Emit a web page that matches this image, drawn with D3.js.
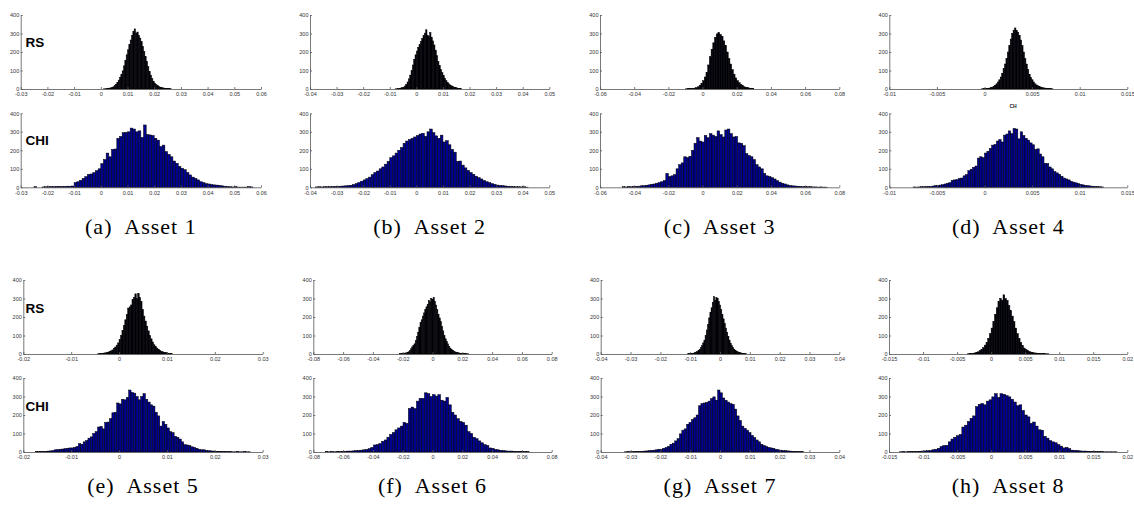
<!DOCTYPE html>
<html>
<head>
<meta charset="utf-8">
<script src="https://cdn.jsdelivr.net/npm/d3@7"></script>
<style>
  body { margin: 0; background: #fff; }
  svg { display: block; }
  .tick text { font-family: "Liberation Sans", Arial, sans-serif; font-size: 5.5px; fill: #333; }
  .domain, .tick line { stroke: #555; stroke-width: 0.8; }
</style>
</head>
<body>
<div id="chart"></div>
<script>
// ---- data ----
const captions = ["(a)  Asset 1", "(b)  Asset 2", "(c)  Asset 3", "(d)  Asset 4",
                  "(e)  Asset 5", "(f)  Asset 6", "(g)  Asset 7", "(h)  Asset 8"];

const xDomains = [[-0.03, 0.06], [-0.04, 0.05], [-0.06, 0.08], [-0.01, 0.015],
                  [-0.02, 0.03], [-0.08, 0.08], [-0.04, 0.04], [-0.015, 0.02]];

const xTicks = [
  [-0.03, -0.02, -0.01, 0, 0.01, 0.02, 0.03, 0.04, 0.05, 0.06],
  [-0.04, -0.03, -0.02, -0.01, 0, 0.01, 0.02, 0.03, 0.04, 0.05],
  [-0.06, -0.04, -0.02, 0, 0.02, 0.04, 0.06, 0.08],
  [-0.01, -0.005, 0, 0.005, 0.01, 0.015],
  [-0.02, -0.01, 0, 0.01, 0.02, 0.03],
  [-0.08, -0.06, -0.04, -0.02, 0, 0.02, 0.04, 0.06, 0.08],
  [-0.04, -0.03, -0.02, -0.01, 0, 0.01, 0.02, 0.03, 0.04],
  [-0.015, -0.01, -0.005, 0, 0.005, 0.01, 0.015, 0.02]
];
const yTicks = [0, 100, 200, 300, 400];

// RS histograms: first bin edge, bin width, counts
const rsBinStart = [0.001, -0.008, -0.010, -0.0003, -0.0045, -0.022, -0.011, -0.0035];
const rsBinWidth = [0.0005, 0.0005, 0.001, 0.00015, 0.0003, 0.0008, 0.0004, 0.00025];
const rsCounts = [
  [1,1,2,3,5,6,8,12,18,26,35,48,62,78,98,125,155,185,212,240,265,290,312,325,302,308,290,275,256,230,203,175,150,122,95,75,56,42,32,24,18,13,10,8,6,5,4,3,2,2,1],
  [1,1,2,3,5,7,10,16,25,38,55,75,100,130,160,185,205,225,240,258,272,288,302,320,290,285,305,280,260,238,210,180,150,128,105,88,72,58,45,35,28,22,17,13,10,8,6,4,3,2],
  [1,2,2,3,4,5,8,12,20,30,45,65,90,130,175,215,250,280,298,305,295,285,260,235,200,165,135,105,80,60,45,34,25,18,12,9,7,5,4,2],
  [1,2,3,3,4,5,7,10,15,20,28,38,50,65,85,110,135,165,200,235,270,300,318,330,315,305,290,265,235,200,165,135,105,80,62,50,38,28,22,17,13,10,8,6,5,4,3,2,2,1],
  [1,2,3,4,5,6,8,10,13,17,22,30,38,48,60,78,100,128,155,185,215,248,255,265,295,305,325,300,328,305,285,240,205,178,150,125,100,82,65,50,40,32,25,20,15,12,9,8,6,4,3,2],
  [2,3,3,4,5,6,8,12,18,28,38,45,55,72,95,118,145,170,185,205,222,240,255,268,290,282,300,295,305,285,265,240,215,195,175,150,125,100,82,68,55,42,32,25,20,16,12,10,8,6,5,4,3,3,2,2,1,1],
  [1,2,2,3,4,5,7,10,13,18,25,35,45,60,75,100,130,160,195,225,250,280,310,290,305,300,285,265,240,215,190,165,140,115,95,75,58,45,35,26,20,15,12,9,7,5,4,3,2,1],
  [1,2,3,4,6,8,12,18,25,35,48,62,85,110,140,175,215,250,285,300,290,320,300,290,262,235,205,175,140,110,85,62,45,32,25,18,14,10,8,6,5,4,3,3,2,2,1,1]
];

// CHI histograms
const chiBinStart = [-0.025, -0.038, -0.047, -0.0075, -0.0175, -0.072, -0.032, -0.0135];
const chiBinWidth = [0.001, 0.001, 0.0015, 0.00025, 0.0005, 0.0018, 0.0008, 0.0004];
const chiCounts = [
  [4,0,0,2,3,3,4,4,5,5,5,5,6,6,7,25,30,38,48,58,70,72,80,90,100,128,150,185,165,205,207,265,275,295,297,300,320,315,300,305,270,337,285,283,280,265,255,220,228,193,178,165,142,130,113,103,95,80,67,55,48,40,30,25,20,18,15,13,12,10,8,6,4,3,2,4,1,1,1,1,4,2],
  [2,3,2,3,3,4,4,5,5,6,7,8,9,11,15,20,26,33,40,47,55,68,80,88,100,110,125,140,160,170,185,200,215,238,250,258,265,272,280,288,292,275,300,315,295,278,265,282,245,252,230,205,190,140,142,120,105,92,80,70,60,52,45,37,30,25,20,16,12,10,9,7,6,5,4,3,3,2,3,1],
  [3,2,4,3,5,5,6,8,9,11,13,16,18,22,26,30,36,75,58,62,68,100,122,132,165,160,168,200,238,268,250,245,280,268,290,282,275,305,285,272,310,315,290,272,275,240,238,225,182,172,165,150,122,110,100,75,62,58,52,45,36,28,22,18,13,10,8,7,6,5,4,4,3,3,2,2,1,2,1,1],
  [2,1,2,3,3,4,5,5,7,9,10,12,14,18,22,25,38,40,42,48,50,62,68,90,98,108,115,158,165,160,185,195,210,228,232,250,258,245,282,288,305,290,318,315,262,300,280,265,255,240,230,205,208,180,165,130,128,110,100,85,78,70,60,50,45,40,32,28,24,20,16,13,10,9,7,6,5,4,3,2],
  [2,2,3,3,4,5,6,8,12,13,15,16,18,20,22,22,25,30,45,42,55,62,75,82,100,110,135,138,125,160,162,180,212,215,265,260,285,282,295,335,322,318,300,282,300,315,285,270,255,248,215,195,140,165,150,130,110,105,85,80,70,55,40,38,35,28,25,20,15,12,12,8,7,6,5,4,4,3,3,2,2,2,1,1,2,1,1,2,1,1],
  [2,1,2,1,2,2,3,3,5,5,6,8,9,10,12,14,18,25,38,40,45,58,65,80,95,105,120,130,140,160,155,235,243,235,275,290,290,320,315,300,310,302,310,280,275,295,255,215,200,180,165,160,145,110,100,80,72,60,50,40,35,22,20,14,12,9,8,6,5,5,4,3,3,3,2,2],
  [1,2,1,2,2,3,3,4,5,6,7,9,10,12,15,14,20,25,30,42,48,60,72,98,118,125,150,160,175,185,200,250,262,265,268,275,288,298,280,335,320,292,280,270,262,258,232,195,170,140,128,118,105,90,78,65,55,42,35,30,25,22,20,15,12,10,8,7,6,5,4,3,3,2,2],
  [1,2,1,2,3,2,3,4,5,6,7,8,12,15,20,30,35,36,55,70,80,88,95,135,145,165,182,195,245,258,262,255,275,282,298,315,295,315,312,305,298,285,270,250,255,225,200,190,155,162,140,120,118,85,75,62,55,50,40,32,22,25,18,10,9,8,6,5,5,4,3,3,2,2,2,1,1,1,1,1]
];

// ---- layout ----
const width = 1134, height = 506;
const axX = [[20.7, 261], [310, 549.3], [600, 839.3], [889.3, 1127.3],
             [23.3, 262.7], [313.3, 551.7], [600.7, 839.3], [889, 1127.3]];
const rowY = [
  { rs: [15, 89], chi: [113.3, 187.3], caption: 234 },
  { rs: [280, 354], chi: [378, 452], caption: 493 }
];

const svg = d3.select('#chart').append('svg')
    .attr('width', width)
    .attr('height', height);

svg.append('rect').attr('width', width).attr('height', height).attr('fill', '#fff');

const drawHist = (p, yRange, start, binW, counts, fill) => {
    const xscale = d3.scaleLinear().domain(xDomains[p]).range(axX[p]);
    const yscale = d3.scaleLinear().domain([0, 400]).range([yRange[1], yRange[0]]);
    const g = svg.append('g');

    g.selectAll('rect')
        .data(counts)
        .enter()
        .append('rect')
        .attr('x', (d, i) => xscale(start + i * binW))
        .attr('width', (d, i) => xscale(start + (i + 1) * binW) - xscale(start + i * binW))
        .attr('y', d => yscale(d))
        .attr('height', d => yscale(0) - yscale(d))
        .attr('fill', fill)
        .attr('stroke', '#000')
        .attr('stroke-width', 0.5);

    g.append('g')
        .attr('transform', 'translate(0,' + yscale(0) + ')')
        .call(d3.axisBottom(xscale).tickValues(xTicks[p]).tickFormat(d => String(d))
            .tickSizeInner(-2).tickSizeOuter(0).tickPadding(3.5));

    g.append('g')
        .attr('transform', 'translate(' + xscale.range()[0] + ',0)')
        .call(d3.axisLeft(yscale).tickValues(yTicks).tickFormat(d => String(d))
            .tickSizeInner(-2).tickSizeOuter(0).tickPadding(1.5));
};

for (let p = 0; p < 8; p++) {
    const r = rowY[Math.floor(p / 4)];
    drawHist(p, r.rs, rsBinStart[p], rsBinWidth[p], rsCounts[p], '#00000c');
    drawHist(p, r.chi, chiBinStart[p], chiBinWidth[p], chiCounts[p], '#000090');

    svg.append('text')
        .attr('x', (axX[p][0] + axX[p][1]) / 2)
        .attr('y', r.caption)
        .attr('text-anchor', 'middle')
        .attr('xml:space', 'preserve')
        .style('font-family', '"Liberation Serif", "Times New Roman", serif')
        .style('font-size', '22px')
        .style('letter-spacing', '1px')
        .attr('fill', '#000')
        .text(captions[p]);
}

// series labels, only on the first panel of each row
const seriesLabel = (txt, y) => svg.append('text')
    .attr('x', 25.5).attr('y', y)
    .style('font-family', '"Liberation Sans", Arial, sans-serif')
    .style('font-size', '13.5px').style('font-weight', 'bold')
    .text(txt);
seriesLabel('RS', 47);
seriesLabel('CHI', 145);
seriesLabel('RS', 312.5);
seriesLabel('CHI', 411);

// stray small title in panel (d)
svg.append('text')
    .attr('x', 1013).attr('y', 108)
    .attr('text-anchor', 'middle')
    .style('font-family', '"Liberation Sans", Arial, sans-serif')
    .style('font-size', '5px').style('font-weight', 'bold')
    .attr('fill', '#222')
    .text('CH');
</script>
</body>
</html>
